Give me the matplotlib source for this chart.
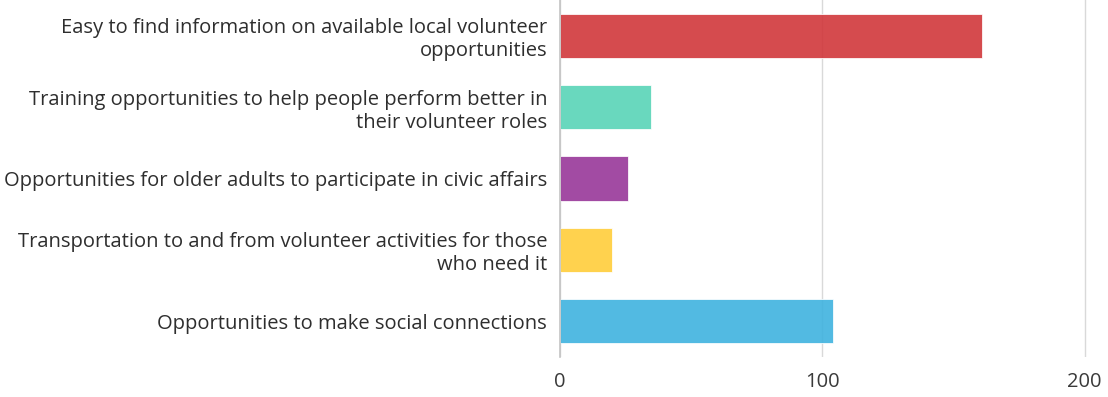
import numpy as np
import matplotlib
matplotlib.use("Agg")
import matplotlib.pyplot as plt

# survey responses, listed top to bottom
categories = [
    "Easy to find information on available local volunteer\nopportunities",
    "Training opportunities to help people perform better in\ntheir volunteer roles",
    "Opportunities for older adults to participate in civic affairs",
    "Transportation to and from volunteer activities for those\nwho need it",
    "Opportunities to make social connections",
]
counts = [161, 35, 26, 20, 104]
colors = ["#D1373B", "#59D4B7", "#983799", "#FFCE3B", "#3FB3DF"]
xticks = [0, 100, 200]

plt.rcParams["font.family"] = ["Open Sans", "DejaVu Sans"]

fig = plt.figure(figsize=(11.08, 3.97), dpi=100)
ax = fig.add_axes([0.505, 0.1008, 0.4762, 0.899])

y = np.arange(len(categories))
ax.barh(y, counts, height=0.62, color=colors, alpha=0.9,
        edgecolor="white", linewidth=0.6, zorder=2)

ax.set_xlim(0, 201)
ax.set_ylim(len(categories) - 0.5, -0.5)
ax.set_xticks(xticks)
ax.set_yticks(y)
ax.set_yticklabels(categories, ha="right", multialignment="right", linespacing=1.2)
ax.tick_params(axis="y", length=0, pad=9, labelsize=14.5, labelcolor="#2e2e2e")
ax.tick_params(axis="x", length=0, pad=11, labelsize=14.5, labelcolor="#3a3a3a")

ax.grid(axis="x", color="#d9d9d9", linewidth=1, zorder=1)
for s in ["top", "right", "bottom"]:
    ax.spines[s].set_visible(False)
ax.spines["left"].set_color("#c4c4c4")
ax.spines["left"].set_linewidth(1.2)

fig.savefig("out.png", dpi=100)
